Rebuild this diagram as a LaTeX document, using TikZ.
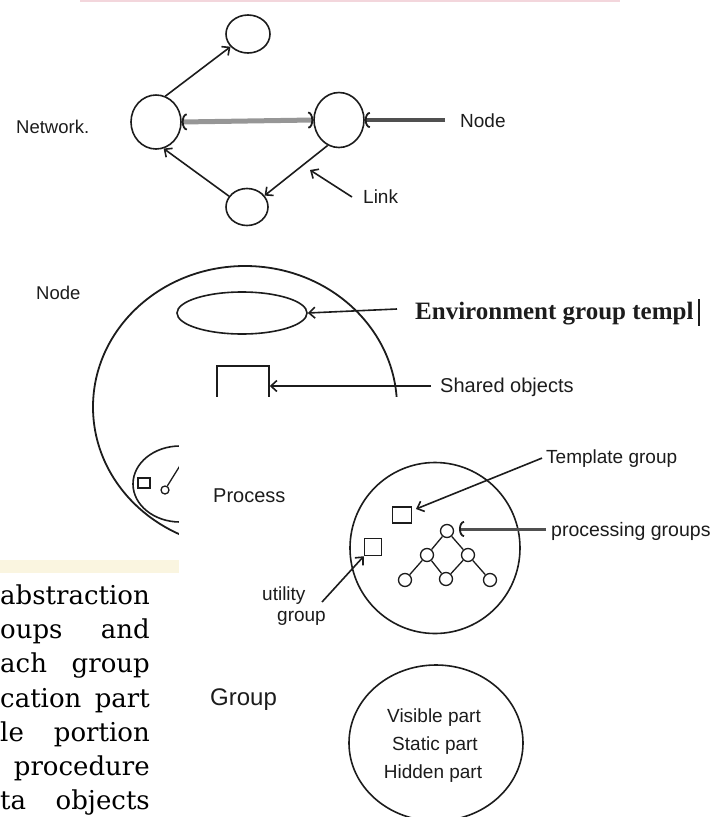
\documentclass[tikz,border=0pt]{standalone}
\usepackage{fontspec}
\setmainfont{Liberation Serif}
\newfontfamily\labelsans{Liberation Sans}
\newfontfamily\bookserif{DejaVu Serif}
\newfontfamily\envserif{Liberation Serif}
\usetikzlibrary{arrows.meta,shapes.geometric}
\definecolor{ink}{RGB}{28,28,28}
\definecolor{shaftgray}{RGB}{150,150,150}
\definecolor{darkshaft}{RGB}{80,80,80}
\definecolor{bandyellow}{RGB}{250,245,224}
\definecolor{pinkband}{RGB}{243,214,220}
\tikzset{
  netnode/.style={ellipse, draw=ink, line width=1.6pt, inner sep=0pt},
  sqbox/.style={rectangle, draw=ink, line width=1.5pt, inner sep=0pt},
  tinynode/.style={circle, draw=ink, line width=1.3pt, inner sep=0pt, minimum size=13pt},
  thinlink/.style={ink, line width=1.6pt, -{Straight Barb[length=6pt,width=11pt]}},
  thicklink/.style={darkshaft, line width=4pt, -{Arc Barb[color=ink,line width=1.8pt 0,length=5pt,width=16pt]}},
  treeedge/.style={ink, line width=1.3pt},
  lbl/.style={inner sep=0pt, anchor=base west, text=ink, font=\labelsans\fontsize{19}{22}\selectfont},
  clbl/.style={lbl, anchor=base},
  booktxt/.style={inner sep=0pt, text=black, font=\bookserif\fontsize{26}{30}\selectfont}
}
\begin{document}
\begin{tikzpicture}[x=1pt,y=-1pt]
\useasboundingbox (0,0) rectangle (713,817);
\clip (0,0) rectangle (713,817);
\fill[pinkband] (80,0) rectangle (620,2);
% ---------------- Network ----------------
\node[netnode, minimum width=44pt, minimum height=38pt] (T) at (248,34) {};
\node[netnode, minimum width=50pt, minimum height=54pt] (L) at (156,122) {};
\node[netnode, minimum width=50pt, minimum height=55pt] (R) at (339,120) {};
\node[netnode, minimum width=42pt, minimum height=37pt] (B) at (247,207) {};
\node[lbl, font=\labelsans\fontsize{18.5}{22}\selectfont] (netlbl) at (16,133) {Network.};
\node[lbl] (nodelbl) at (460,127) {Node};
\node[lbl] (linklbl) at (363,203) {Link};
\draw[thinlink] (L.70) -- (T.216);
\draw[thinlink] (R.246) -- (B.33);
\draw[thinlink] (B.149) -- (L.286);
\draw[shaftgray, line width=5pt,
  {Arc Barb[color=ink,line width=1.8pt 0,length=5pt,width=17pt]}-{Arc Barb[color=ink,line width=1.8pt 0,length=5pt,width=17pt]}]
  (L.east) -- (R.west);
\coordinate (nodetail) at (445,120);
\draw[thicklink] (nodetail) -- (R.east);
\coordinate (linktail) at (352,197);
\coordinate (linktip) at (310,170);
\draw[thinlink] (linktail) -- (linktip);
% ---------------- Node ----------------
\node[lbl, font=\labelsans\fontsize{18.5}{22}\selectfont] (nodelbl2) at (36,299) {Node};
\node[netnode, line width=1.8pt, minimum width=304pt, minimum height=282pt] (NB) at (245,407) {};
\node[netnode, minimum width=130pt, minimum height=42pt] (env) at (242,313) {};
\node[sqbox, minimum width=52pt, minimum height=56pt] (shared) at (243,394) {};
\node[netnode, minimum width=94pt, minimum height=76pt] (SC) at (180,484) {};
\node[sqbox, line width=1.3pt, minimum width=12pt, minimum height=10pt] (sq) at (144,483) {};
\node[circle, draw=ink, line width=1.3pt, inner sep=0pt, minimum size=8pt] (dot) at (165,490) {};
\coordinate (dotup) at (181,464);
\draw[ink, line width=1.3pt] (dot.60) -- (dotup);
\node[anchor=base west, inner sep=0pt, text=ink, font=\envserif\bfseries\fontsize{25}{28}\selectfont] (envlbl) at (415,319) {Environment group templ};
\coordinate (envtail) at (397,309);
\draw[thinlink] (envtail) -- (env.east);
\coordinate (cura) at (699,299);
\coordinate (curb) at (699,326);
\draw[ink, line width=1.2pt] (cura) -- (curb);
\node[lbl, font=\labelsans\fontsize{20}{22}\selectfont] (sharedlbl) at (440,392) {Shared objects};
\coordinate (sharedtail) at (431,386);
\draw[thinlink] (sharedtail) -- (sharedtail -| shared.east);
% ---------------- overlay panel ----------------
\fill[white] (179,397) rectangle (713,817);
\fill[bandyellow] (0,560) rectangle (179,573);
% ---------------- Process ----------------
\node[lbl, font=\labelsans\fontsize{20}{22}\selectfont] (proclbl) at (213,502) {Process};
\node[netnode, minimum width=170pt, minimum height=171pt] (P) at (435,548) {};
\node[sqbox, minimum width=19pt, minimum height=16pt] (tg) at (402,515) {};
\node[sqbox, minimum width=17pt, minimum height=17pt] (ug) at (373,547) {};
\node[tinynode] (t0) at (447,531) {};
\node[tinynode] (t1) at (427,555) {};
\node[tinynode] (t2) at (468,555) {};
\node[tinynode] (b1) at (405,580) {};
\node[tinynode] (b2) at (446,579) {};
\node[tinynode] (b3) at (490,580) {};
\draw[treeedge] (t0) -- (t1);
\draw[treeedge] (t0) -- (t2);
\draw[treeedge] (t1) -- (b1);
\draw[treeedge] (t1) -- (b2);
\draw[treeedge] (t2) -- (b2);
\draw[treeedge] (t2) -- (b3);
\node[lbl] (tglbl) at (546,463) {Template group};
\coordinate (tgtip) at (416,509);
\draw[thinlink] ([xshift=-4pt]tglbl.west) -- (tgtip);
\node[lbl, font=\labelsans\fontsize{19.5}{22}\selectfont] (pglbl) at (551,536) {processing groups};
\coordinate (pgtail) at (546,529);
\coordinate (pgtip) at (459,529);
\draw[thicklink, line width=3pt] (pgtail) -- (pgtip);
\node[lbl] (ut1) at (262,600) {utility};
\node[lbl] (ut2) at (277,621) {group};
\coordinate (uttail) at (322,602);
\draw[thinlink] (uttail) -- (ug.south west);
% ---------------- Group ----------------
\node[lbl, font=\labelsans\fontsize{24}{26}\selectfont] (grplbl) at (210,705) {Group};
\node[netnode, minimum width=174pt, minimum height=156pt] (G) at (436,743) {};
\node[clbl] (vis) at (434,722) {Visible part};
\node[clbl] (sta) at (435,750) {Static part};
\node[clbl] (hid) at (433,778) {Hidden part};
% ---------------- page text on the left ----------------
\node[booktxt, anchor=base east] (w1) at (150,604) {abstraction};
\node[booktxt, anchor=base west] (w2a) at (0,638) {oups};
\node[booktxt, anchor=base east] (w2b) at (150,638) {and};
\node[booktxt, anchor=base west] (w3a) at (0,672) {ach};
\node[booktxt, anchor=base east] (w3b) at (150,672) {group};
\node[booktxt, anchor=base west] (w4a) at (0,707) {cation};
\node[booktxt, anchor=base east] (w4b) at (150,707) {part};
\node[booktxt, anchor=base west] (w5a) at (0,741) {le};
\node[booktxt, anchor=base east] (w5b) at (150,741) {portion};
\node[booktxt, anchor=base east] (w6) at (150,775) {procedure};
\node[booktxt, anchor=base west] (w7a) at (0,809) {ta};
\node[booktxt, anchor=base east] (w7b) at (150,809) {objects};
\end{tikzpicture}
\end{document}
